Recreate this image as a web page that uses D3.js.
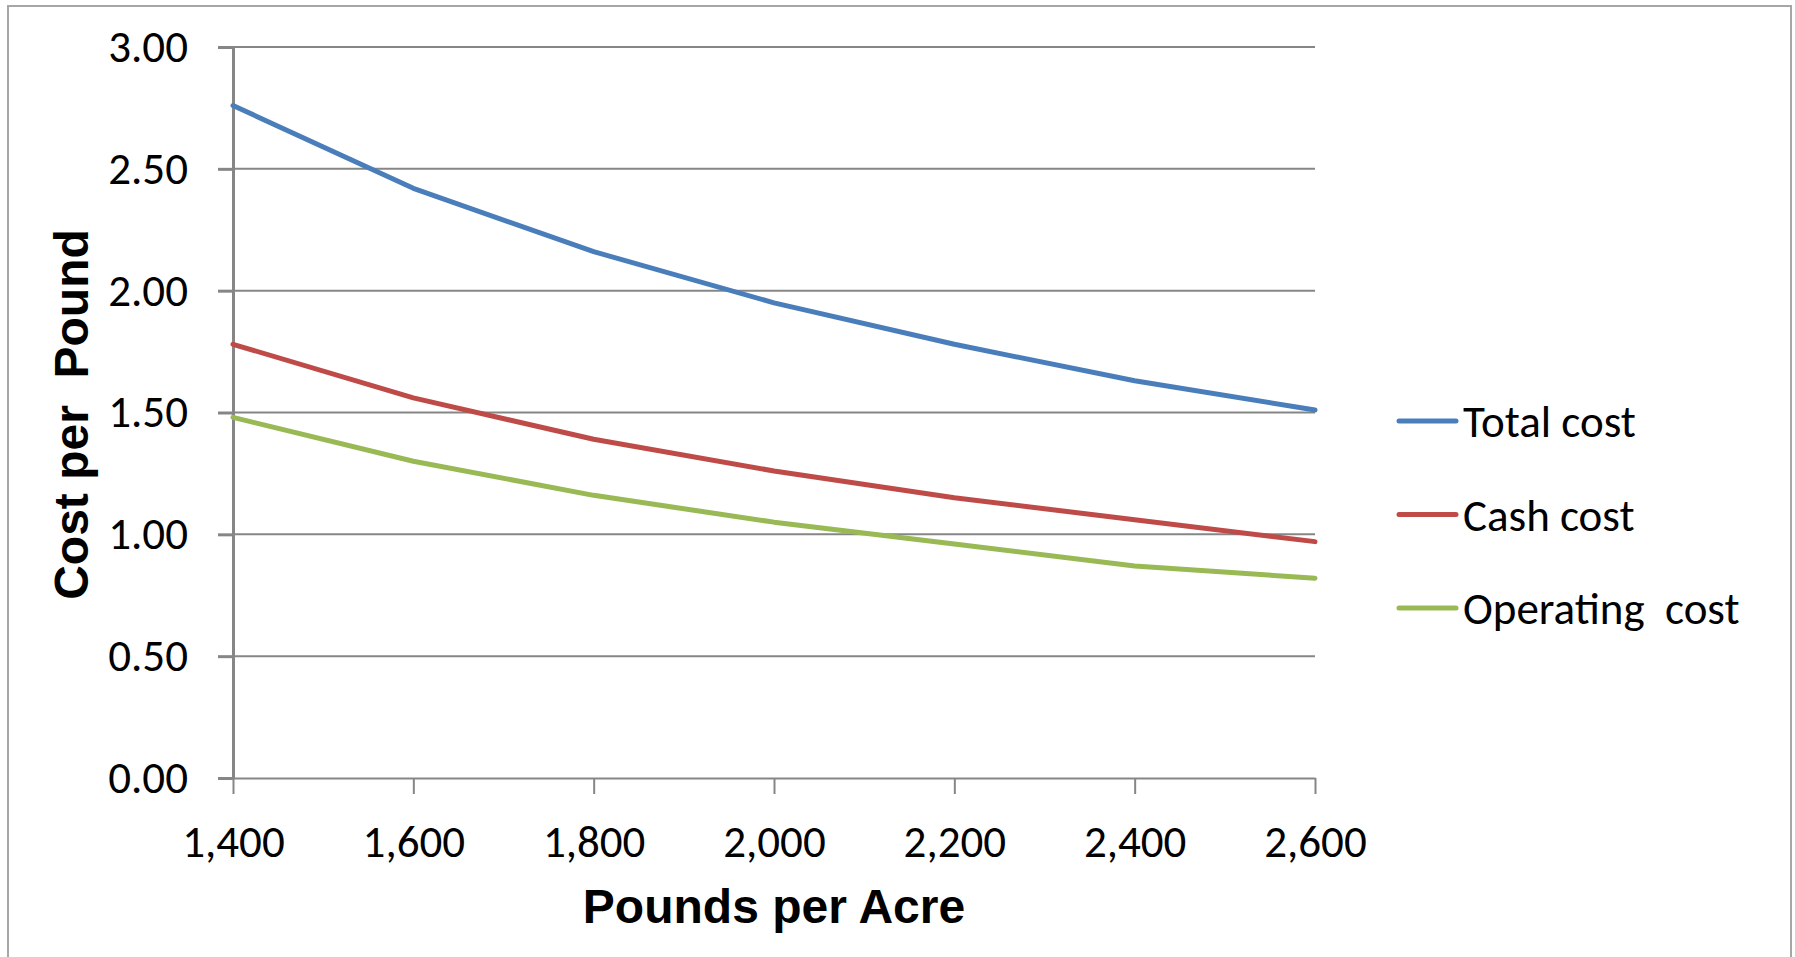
<!DOCTYPE html>
<html>
<head>
<meta charset="utf-8">
<script src="https://cdn.jsdelivr.net/npm/d3@7"></script>
<style>
  body { margin: 0; background: #fff; }
  svg { display: block; }
</style>
</head>
<body>
<div id="chart"></div>
<script>
// data
var pounds = [1400, 1600, 1800, 2000, 2200, 2400, 2600];
var totalCost = [2.76, 2.42, 2.16, 1.95, 1.78, 1.63, 1.51];
var cashCost = [1.78, 1.56, 1.39, 1.26, 1.15, 1.06, 0.97];
var operatingCost = [1.48, 1.30, 1.16, 1.05, 0.96, 0.87, 0.82];
var seriesNames = ["Total cost", "Cash cost", "Operating  cost"];
var seriesColors = ["#4a7ebb", "#be4b48", "#98b954"];
var yTicks = [0, 0.5, 1, 1.5, 2, 2.5, 3];

var W = 1795, H = 957;
var margin = {top: 47, right: 480, bottom: 179, left: 233};
var w = W - margin.left - margin.right,
    h = H - margin.top - margin.bottom;

var svg = d3.select("#chart").append("svg")
    .attr("width", W)
    .attr("height", H);

// outer frame
svg.append("rect")
    .attr("x", 8).attr("y", 6)
    .attr("width", 1783).attr("height", 960)
    .attr("fill", "none")
    .attr("stroke", "#a6a6a6")
    .attr("stroke-width", 2);

var g = svg.append("g")
    .attr("transform", "translate(" + margin.left + "," + margin.top + ")");

var x = d3.scaleLinear().domain([1400, 2600]).range([0, w]);
var y = d3.scaleLinear().domain([0, 3]).range([h, 0]);

var labelFont = "Carlito, Calibri, Lato, sans-serif";
var titleFont = "Arial, 'Liberation Sans', sans-serif";

// gridlines
g.append("g")
  .selectAll("line")
  .data(yTicks.filter(function(d) { return d > 0; }))
  .enter().append("line")
    .attr("x1", 0).attr("x2", w)
    .attr("y1", function(d) { return y(d); })
    .attr("y2", function(d) { return y(d); })
    .attr("stroke", "#868686")
    .attr("stroke-width", 2);

// x axis
var xAxis = g.append("g")
    .attr("transform", "translate(0," + h + ")")
    .call(d3.axisBottom(x)
      .tickValues(pounds)
      .tickFormat(d3.format(","))
      .tickSize(16)
      .tickSizeOuter(0)
      .tickPadding(31));
xAxis.select(".domain").attr("stroke", "#868686").attr("stroke-width", 2);
xAxis.selectAll(".tick line").attr("stroke", "#868686").attr("stroke-width", 2);
xAxis.selectAll("text")
    .attr("fill", "#000")
    .style("font-family", labelFont)
    .style("font-size", "45px");

// y axis
var yAxis = g.append("g")
    .call(d3.axisLeft(y)
      .tickValues(yTicks)
      .tickFormat(d3.format(".2f"))
      .tickSize(15)
      .tickSizeOuter(0)
      .tickPadding(30));
yAxis.select(".domain").attr("stroke", "#868686").attr("stroke-width", 3);
yAxis.selectAll(".tick line").attr("stroke", "#868686").attr("stroke-width", 3);
yAxis.selectAll("text")
    .attr("fill", "#000")
    .style("font-family", labelFont)
    .style("font-size", "45px");

// lines
var series = [totalCost, cashCost, operatingCost];
var line = d3.line()
    .x(function(d, i) { return x(pounds[i]); })
    .y(function(d) { return y(d); });

g.selectAll(".series")
  .data(series)
  .enter().append("path")
    .attr("class", "series")
    .attr("fill", "none")
    .attr("stroke", function(d, i) { return seriesColors[i]; })
    .attr("stroke-width", 5)
    .attr("stroke-linecap", "round")
    .attr("stroke-linejoin", "round")
    .attr("d", line);

// axis titles
svg.append("text")
    .attr("x", margin.left + w / 2)
    .attr("y", 923)
    .attr("text-anchor", "middle")
    .style("font-family", titleFont)
    .style("font-weight", "bold")
    .style("font-size", "48px")
    .text("Pounds per Acre");

svg.append("text")
    .attr("transform", "translate(88," + (margin.top + h / 2 + 2) + ") rotate(-90)")
    .attr("text-anchor", "middle")
    .style("font-family", titleFont)
    .style("font-weight", "bold")
    .style("font-size", "48px")
    .style("white-space", "pre")
    .text("Cost per  Pound");

// legend
var legend = svg.append("g")
    .attr("transform", "translate(1399,421)");
var item = legend.selectAll(".item")
  .data(seriesNames)
  .enter().append("g")
    .attr("class", "item")
    .attr("transform", function(d, i) { return "translate(0," + (i * 93.5) + ")"; });
item.append("line")
    .attr("x1", 0).attr("x2", 57)
    .attr("stroke", function(d, i) { return seriesColors[i]; })
    .attr("stroke-width", 5)
    .attr("stroke-linecap", "round");
item.append("text")
    .attr("x", 64)
    .attr("y", 16)
    .style("font-family", labelFont)
    .style("font-size", "45px")
    .style("white-space", "pre")
    .text(function(d) { return d; });
</script>
</body>
</html>
